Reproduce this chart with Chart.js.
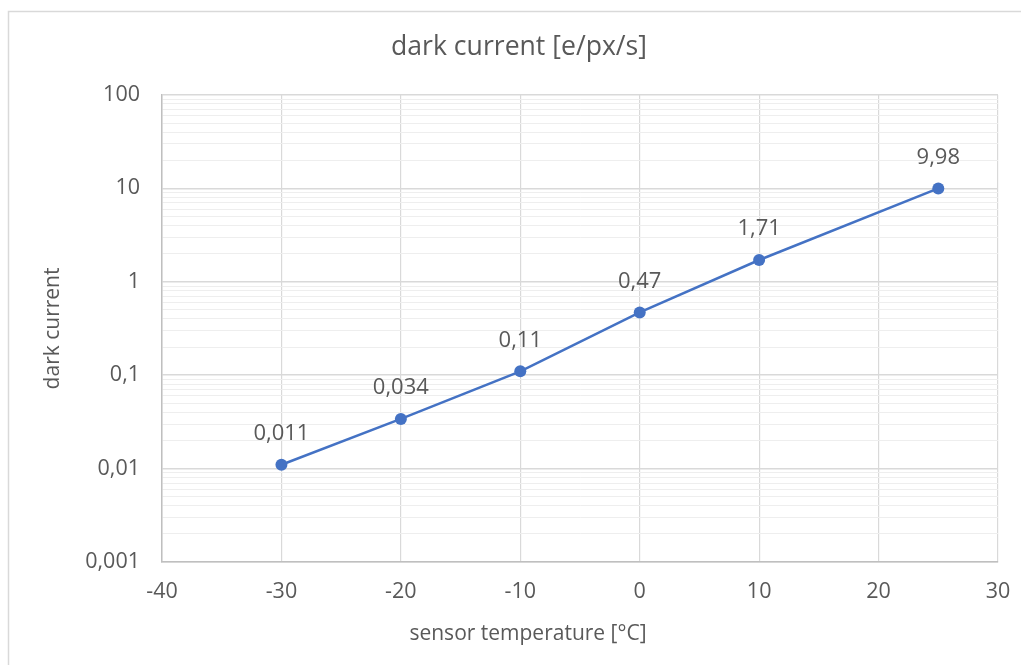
<!DOCTYPE html>
<html>
<head>
<meta charset="utf-8">
<script src="https://cdn.jsdelivr.net/npm/chart.js@4/dist/chart.umd.min.js"></script>
<style>
  html, body { margin: 0; padding: 0; background: #ffffff; }
  #wrap { position: relative; width: 1021px; height: 665px; }
</style>
</head>
<body>
<div id="wrap"><canvas id="c" width="1021" height="665"></canvas></div>
<script>
// ---- data ----
const chartTitle = 'dark current [e/px/s]';
const xAxisTitle = 'sensor temperature [°C]';
const yAxisTitle = 'dark current';
const temperatures = [-30, -20, -10, 0, 10, 25];
const darkCurrent = [0.011, 0.034, 0.11, 0.47, 1.71, 9.98];
const pointLabels = ['0,011', '0,034', '0,11', '0,47', '1,71', '9,98'];
const yTickValues = [0.001, 0.01, 0.1, 1, 10, 100];
const yTickLabels = ['0,001', '0,01', '0,1', '1', '10', '100'];
const xTickValues = [-40, -30, -20, -10, 0, 10, 20, 30];
const xTickLabels = ['-40', '-30', '-20', '-10', '0', '10', '20', '30'];

const FONT = '"Open Sans"';
const TEXT = '#595959';

function matchIndex(list, v) {
  for (let i = 0; i < list.length; i++) {
    if (Math.abs(list[i] - v) <= Math.abs(list[i]) * 1e-6 + 1e-12) return i;
  }
  return -1;
}

// minor grid values within each decade (2..9 x decade)
function decadeGrid(majors) {
  const out = [];
  for (let d = 0; d < majors.length; d++) {
    out.push(majors[d]);
    if (d < majors.length - 1) {
      for (let m = 2; m <= 9; m++) out.push(+(majors[d] * m).toPrecision(6));
    }
  }
  return out;
}

const frame = {
  id: 'frame',
  beforeDraw(chart) {
    const ctx = chart.ctx;
    ctx.save();
    ctx.fillStyle = '#ffffff';
    ctx.fillRect(0, 0, chart.width, chart.height);
    ctx.strokeStyle = '#d9d9d9';
    ctx.lineWidth = 1.5;
    ctx.strokeRect(8.5, 11.5, 1200, 1000);
    ctx.restore();
  }
};

// x-axis title is centred on the whole chart frame (as in the reference), not the plot area
const xTitlePlugin = {
  id: 'xTitle',
  afterDraw(chart) {
    const ctx = chart.ctx;
    ctx.save();
    ctx.font = '21px ' + FONT;
    ctx.fillStyle = TEXT;
    ctx.textAlign = 'center';
    ctx.textBaseline = 'middle';
    ctx.fillText(xAxisTitle, 528, 634);
    ctx.restore();
  }
};

const labelsPlugin = {
  id: 'pointLabels',
  afterDatasetsDraw(chart) {
    const ctx = chart.ctx;
    const meta = chart.getDatasetMeta(0);
    ctx.save();
    ctx.font = '22px ' + FONT;
    ctx.fillStyle = TEXT;
    ctx.textAlign = 'center';
    ctx.textBaseline = 'middle';
    meta.data.forEach((pt, i) => {
      ctx.fillText(pointLabels[i], pt.x, pt.y - 31);
    });
    ctx.restore();
  }
};

new Chart(document.getElementById('c'), {
  type: 'scatter',
  data: {
    datasets: [{
      data: temperatures.map((t, i) => ({ x: t, y: darkCurrent[i] })),
      showLine: true,
      borderColor: '#4472C4',
      backgroundColor: '#4472C4',
      borderWidth: 2.5,
      pointRadius: 6,
      pointHoverRadius: 6,
      pointBorderWidth: 0
    }]
  },
  options: {
    responsive: false,
    animation: false,
    events: [],
    layout: { padding: { left: 40, right: 23, top: 31, bottom: 0 } },
    plugins: {
      legend: { display: false },
      tooltip: { enabled: false },
      title: {
        display: true,
        text: chartTitle,
        color: TEXT,
        font: { family: FONT, size: 26.6, weight: 'normal' },
        padding: { top: 0, bottom: 32 }
      }
    },
    scales: {
      x: {
        type: 'linear',
        min: -40,
        max: 30,
        afterBuildTicks(scale) { scale.ticks = xTickValues.map(v => ({ value: v })); },
        afterFit(scale) { scale.height = 103; scale.paddingRight = 0; scale.paddingLeft = 0; },
        ticks: {
          autoSkip: false,
          maxRotation: 0,
          padding: 17,
          color: TEXT,
          font: { family: FONT, size: 21.5 },
          callback: (v) => { const i = matchIndex(xTickValues, v); return i >= 0 ? xTickLabels[i] : ''; }
        },
        grid: { color: '#d9d9d9', lineWidth: 1.2, drawTicks: false },
        border: { display: true, color: '#bfbfbf', width: 1.5 },
        title: { display: false }
      },
      y: {
        type: 'logarithmic',
        min: 0.001,
        max: 100,
        afterBuildTicks(scale) { scale.ticks = decadeGrid(yTickValues).map(v => ({ value: v })); },
        afterFit(scale) { scale.width = 122; },
        ticks: {
          autoSkip: false,
          padding: 22,
          color: TEXT,
          font: { family: FONT, size: 21.5 },
          callback: (v) => { const i = matchIndex(yTickValues, v); return i >= 0 ? yTickLabels[i] : ''; }
        },
        grid: {
          drawTicks: false,
          lineWidth: (ctx) => (ctx.tick && matchIndex(yTickValues, ctx.tick.value) >= 0) ? 1.5 : 1,
          color: (ctx) => (ctx.tick && matchIndex(yTickValues, ctx.tick.value) >= 0) ? '#d9d9d9' : '#eeeeee'
        },
        border: { display: true, color: '#bfbfbf', width: 1.5 },
        title: {
          display: true,
          text: yAxisTitle,
          color: TEXT,
          font: { family: FONT, size: 21 },
          padding: { top: 0, bottom: 0 }
        }
      }
    }
  },
  plugins: [frame, labelsPlugin, xTitlePlugin]
});
</script>
</body>
</html>
